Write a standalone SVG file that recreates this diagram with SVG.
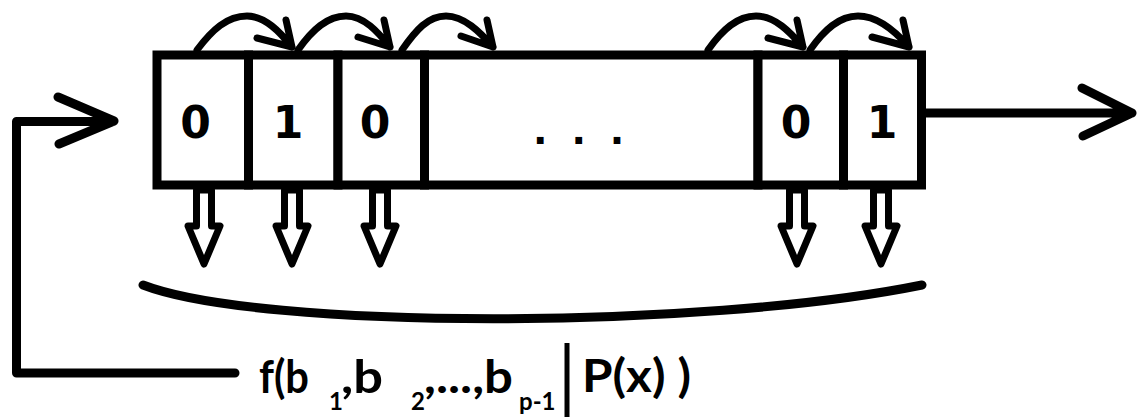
<svg xmlns="http://www.w3.org/2000/svg" width="1137" height="417" viewBox="0 0 1137 417">
<defs>
<style>
.cell{fill:#fff;stroke:#000;stroke-width:9}
.bit{font-family:"DejaVu Sans",Verdana,sans-serif;font-weight:bold;font-size:44px;fill:#000;text-anchor:middle}
.dots{font-family:"DejaVu Sans",sans-serif;font-weight:bold;font-size:38px;fill:#000;letter-spacing:24px}
.ln{fill:none;stroke:#000;stroke-width:9;stroke-linecap:round;stroke-linejoin:round}
.arc{fill:none;stroke:#000;stroke-width:7;stroke-linecap:round;stroke-linejoin:round}
.down{fill:#fff;stroke:#000;stroke-width:7;stroke-linejoin:round}
.lbl{font-family:Lato,"Liberation Sans",sans-serif;font-weight:bold;fill:#000;font-size:45px}
.sub{font-size:24px}
</style>
</defs>
<rect width="1137" height="417" fill="#fff"/>
<g id="cell1"><rect class="cell" x="157" y="55" width="91.5" height="130"/><text class="bit" x="195.5" y="138">0</text></g>
<g id="cell2"><rect class="cell" x="248.5" y="55" width="89.5" height="130"/><text class="bit" x="288" y="138">1</text></g>
<g id="cell3"><rect class="cell" x="338" y="55" width="86.5" height="130"/><text class="bit" x="375" y="138">0</text></g>
<g id="cell4"><rect class="cell" x="424.5" y="55" width="333.5" height="130"/><text class="dots" x="533" y="144">...</text></g>
<g id="cell5"><rect class="cell" x="758" y="55" width="85.5" height="130"/><text class="bit" x="796" y="138">0</text></g>
<g id="cell6"><rect class="cell" x="843.5" y="55" width="78" height="130"/><text class="bit" x="882" y="138">1</text></g>
<g id="label">
<text class="lbl" x="259" y="393" textLength="50" lengthAdjust="spacingAndGlyphs">f(b</text>
<text class="lbl sub" x="329" y="410">1</text>
<text class="lbl" x="341" y="393" textLength="42" lengthAdjust="spacingAndGlyphs">,b</text>
<text class="lbl sub" x="411" y="410">2</text>
<text class="lbl" x="424" y="393" textLength="89" lengthAdjust="spacingAndGlyphs">,...,b</text>
<text class="lbl sub" x="519" y="410">p-1</text>
<text class="lbl" x="582" y="392" textLength="109" lengthAdjust="spacingAndGlyphs">P(x) )</text>
<line x1="567" y1="343" x2="567" y2="417" stroke="#000" stroke-width="5"/>
</g>
<g id="connectors">
<path class="arc" d="M197,50 C212,30 227,16 247,16 C265,16 280,32 292,47 M286,20 L292,47 M257,38 L292,47"/>
<path class="arc" d="M298,50 C312,30 327,16 346,16 C364,16 378,32 390,47 M384,20 L390,47 M358,37 L390,47"/>
<path class="arc" d="M402,50 C416,30 428,16 446,16 C464,16 480,32 493,47 M487,20 L493,47 M461,36 L493,47"/>
<path class="arc" d="M708,50 C722,30 737,16 756,16 C775,16 790,32 803,47 M797,20 L803,47 M768,38 L803,47"/>
<path class="arc" d="M810,50 C824,30 839,16 858,16 C877,16 896,32 909,47 M903,20 L909,47 M872,37 L909,47"/>
<g id="taps">
<polygon class="down" points="196.5,190 196.5,226 188,226 204,264 220,226 211.5,226 211.5,190"/>
<polygon class="down" points="284.5,190 284.5,226 276,226 292,264 308,226 299.5,226 299.5,190"/>
<polygon class="down" points="372.5,190 372.5,226 364,226 380,264 396,226 387.5,226 387.5,190"/>
<polygon class="down" points="789.5,190 789.5,226 781,226 797,264 813,226 804.5,226 804.5,190"/>
<polygon class="down" points="873.5,190 873.5,226 865,226 881,264 897,226 888.5,226 888.5,190"/>
</g>
<path class="ln" d="M143,285 C260,330 700,330 922,285"/>
<path class="ln" d="M235,373 H16.5 V121.5 H113 M58,97 L114,121 L59,144"/>
<path class="ln" d="M926,113 H1132 M1082,88 L1132,113 L1083,136"/>
</g>
</svg>
